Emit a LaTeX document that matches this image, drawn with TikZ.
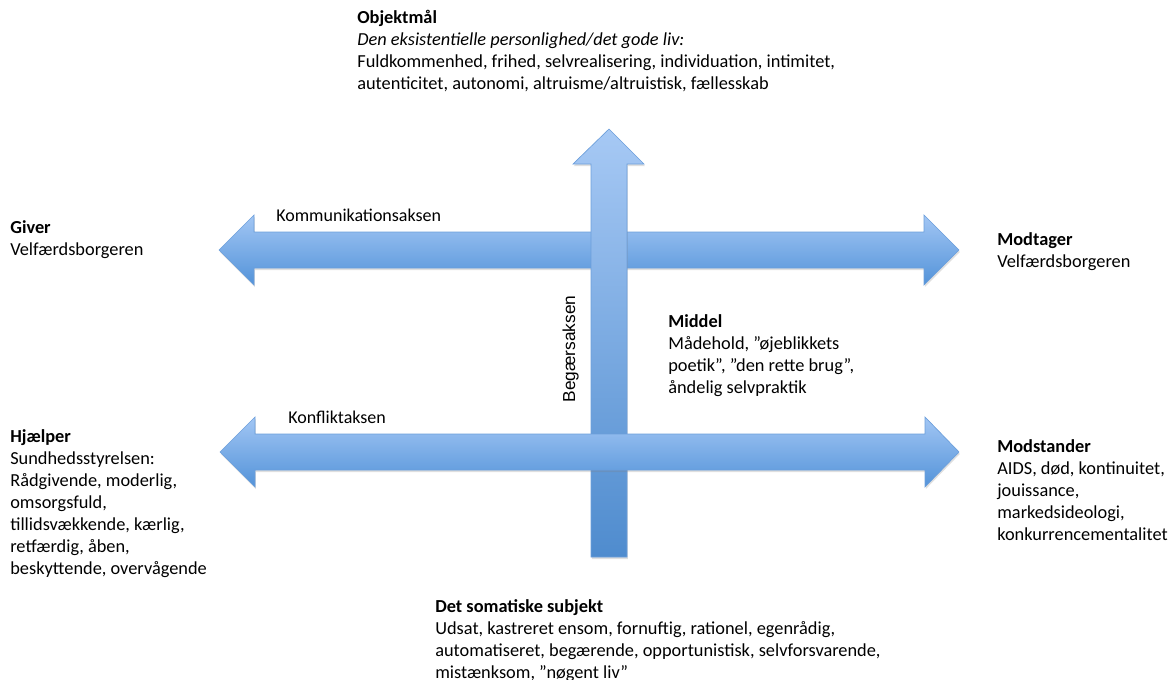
\documentclass[tikz,border=0pt]{standalone}
\usepackage{fontspec}
\setmainfont{Carlito}
\newfontfamily\axisfont{Liberation Sans}
\usetikzlibrary{shadows}

\definecolor{axislight}{HTML}{A2C6F4}
\definecolor{axisdark}{HTML}{5393D9}
\definecolor{axisedge}{HTML}{6C9FDB}

\tikzset{
  axisarrow/.style={draw=axisedge, line width=0.4pt, top color=axislight, bottom color=axisdark,
    drop shadow={opacity=0.25, shadow xshift=0.5pt, shadow yshift=-1.2pt}},
  % base = baseline of the last line
  txt/.style={inner sep=0pt, align=left, anchor=base west, font=\fontsize{11}{13.2}\selectfont},
  axislabel/.style={inner sep=0pt, anchor=base west, font=\fontsize{10.8}{13.2}\selectfont}
}

\begin{document}
\begin{tikzpicture}[x=0.6pt, y=-0.6pt]
\useasboundingbox (0,0) rectangle (1173,680);

% kommunikationsaksen
\draw[axisarrow] (219,250) -- (254,215) -- (254,232) -- (924,232) -- (924,215) -- (959,250)
  -- (924,285) -- (924,268) -- (254,268) -- (254,285) -- cycle;

% begaersaksen
\draw[axisarrow, top color=axislight!95!white, bottom color=axisdark!95!black] (609,129) -- (644,164) -- (627,164) -- (627,557)
  -- (591,557) -- (591,164) -- (573,164) -- cycle;

% konfliktaksen
\draw[axisarrow] (220,452) -- (255,417) -- (255,434) -- (925,434) -- (925,417) -- (959,452)
  -- (925,487) -- (925,470) -- (255,470) -- (255,487) -- cycle;

\node[axislabel] (komm) at (276,221) {Kommunikationsaksen};
\node[axislabel] (konf) at (288,423) {Konfliktaksen};
\node[inner sep=0pt, anchor=base, rotate=90, font=\axisfont\fontsize{10.4}{12}\selectfont] (beg) at (575,349) {Begærsaksen};

\node[txt] (objekt) at (357,89) {\textbf{Objektmål}\\
  \textit{Den eksistentielle personlighed/det gode liv:}\\
  Fuldkommenhed, frihed, selvrealisering, individuation, intimitet,\\
  autenticitet, autonomi, altruisme/altruistisk, fællesskab};

\node[txt] (giver) at (10,255) {\textbf{Giver}\\Velfærdsborgeren};
\node[txt] (modtager) at (997,267) {\textbf{Modtager}\\Velfærdsborgeren};

\node[txt] (middel) at (668,393) {\textbf{Middel}\\
  Mådehold, ”øjeblikkets\\
  poetik”, ”den rette brug”,\\
  åndelig selvpraktik};

\node[txt] (hjaelper) at (10,574) {\textbf{Hjælper}\\
  Sundhedsstyrelsen:\\
  Rådgivende, moderlig,\\
  omsorgsfuld,\\
  tillidsvækkende, kærlig,\\
  retfærdig, åben,\\
  beskyttende, overvågende};

\node[txt] (modstander) at (997,540) {\textbf{Modstander}\\
  AIDS, død, kontinuitet,\\
  jouissance,\\
  markedsideologi,\\
  konkurrencementalitet};

\node[txt] (subjekt) at (435,678) {\textbf{Det somatiske subjekt}\\
  Udsat, kastreret ensom, fornuftig, rationel, egenrådig,\\
  automatiseret, begærende, opportunistisk, selvforsvarende,\\
  mistænksom, ”nøgent liv”};

\end{tikzpicture}
\end{document}
